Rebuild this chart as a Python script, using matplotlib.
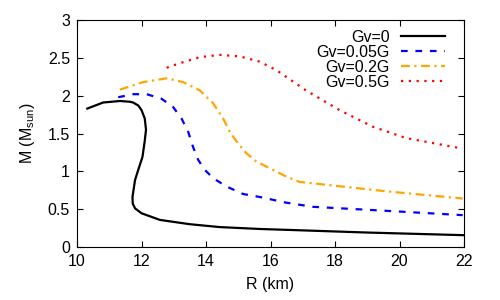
import matplotlib
matplotlib.use('Agg')
from matplotlib import pyplot as plt
import numpy as np

plt.rcParams['font.family'] = ['Liberation Sans', 'DejaVu Sans']
plt.rcParams['font.size'] = 11.5
plt.rcParams['mathtext.fontset'] = 'custom'
plt.rcParams['mathtext.rm'] = 'Liberation Sans'
plt.rcParams['mathtext.it'] = 'Liberation Sans'

# Gv = 0
r0 = [10.32, 10.81, 11.33, 11.64, 11.74, 11.9, 12.0, 12.1, 12.14, 12.1, 12.03, 11.9, 11.8, 11.72, 11.73, 11.8, 12.0, 12.57, 13.5, 14.43, 15.67, 16.9, 19.0, 22.0]
m0 = [1.83, 1.91, 1.93, 1.92, 1.91, 1.87, 1.81, 1.70, 1.55, 1.40, 1.19, 1.02, 0.885, 0.66, 0.57, 0.51, 0.445, 0.357, 0.30, 0.262, 0.237, 0.22, 0.19, 0.155]

# Gv = 0.05G
r1 = [11.28, 11.74, 12.16, 12.62, 12.98, 13.24, 13.45, 13.6, 13.76, 13.96, 14.22, 14.63, 15.15, 15.67, 16.49, 17.32, 19.48, 21.96]
m1 = [1.98, 2.02, 2.02, 1.96, 1.85, 1.70, 1.52, 1.32, 1.15, 1.02, 0.91, 0.80, 0.70, 0.66, 0.585, 0.53, 0.48, 0.42]

# Gv = 0.2G
r2 = [11.33, 12.05, 12.78, 13.29, 13.81, 14.22, 14.53, 14.74, 14.99, 15.25, 15.56, 15.98, 16.49, 16.9, 19.48, 21.96]
m2 = [2.08, 2.18, 2.23, 2.18, 2.07, 1.90, 1.70, 1.52, 1.37, 1.24, 1.13, 1.04, 0.93, 0.86, 0.74, 0.64]

# Gv = 0.5G
r3 = [12.78, 13.19, 13.81, 14.43, 15.05, 15.67, 16.08, 16.28, 17.1, 18.14, 19.17, 20.2, 21.96]
m3 = [2.37, 2.43, 2.51, 2.54, 2.52, 2.45, 2.36, 2.31, 2.07, 1.81, 1.59, 1.44, 1.30]

fig = plt.figure(figsize=(5, 3), dpi=100)
ax = fig.add_axes([0.154, 0.177, 0.774, 0.756])

ax.plot(r0, m0, color='k', lw=1.6, label='Gv=0')
ax.plot(r1, m1, color='blue', lw=1.6, ls=(0, (3, 3.5)), label='Gv=0.05G')
ax.plot(r2, m2, color='orange', lw=1.6, ls=(0, (4, 2, 1, 2)), label='Gv=0.2G')
ax.plot(r3, m3, color='red', lw=1.6, ls=(0, (1, 2.5)), label='Gv=0.5G')

ax.set_xlim(10, 22)
ax.set_ylim(0, 3)
ax.set_xticks(np.arange(10, 23, 2))
ax.set_yticks([0, 0.5, 1, 1.5, 2, 2.5, 3])
ax.set_yticklabels(['0', '0.5', '1', '1.5', '2', '2.5', '3'])
ax.tick_params(direction='in', top=True, right=True, length=4, width=0.8, pad=5)
ax.set_xlabel('R (km)', labelpad=6)
ax.set_ylabel('M (M$_{sun}$)', labelpad=8)

ax.legend(loc='upper right', frameon=False, markerfirst=False, handlelength=2.75,
          labelspacing=0.0, borderaxespad=0.4, borderpad=0.2, handletextpad=0.7,
          bbox_to_anchor=(0.975, 1.0))

plt.savefig('out.png', dpi=100)
